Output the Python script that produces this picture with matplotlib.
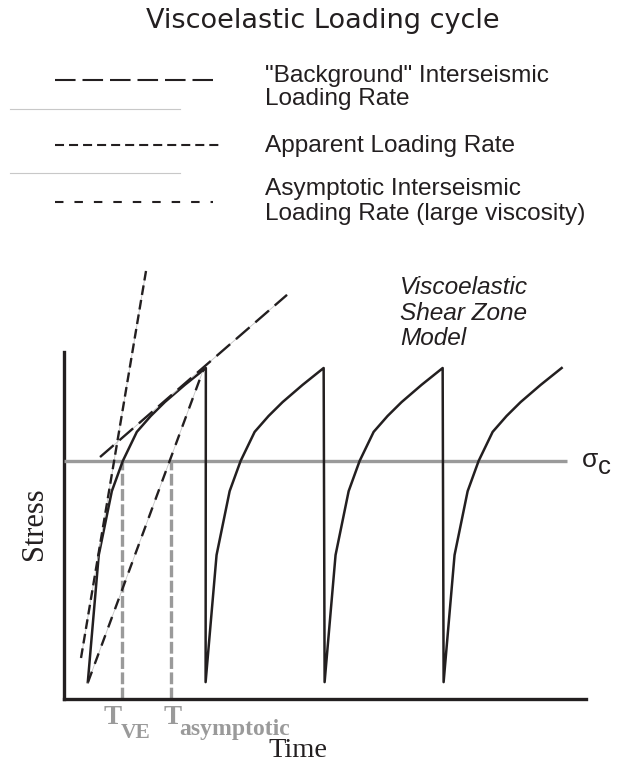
"""Viscoelastic loading cycle sketch: stress vs time with loading-rate guides."""

import matplotlib

matplotlib.use("Agg")
import matplotlib.pyplot as plt
from matplotlib.lines import Line2D

plt.rcParams["lines.scale_dashes"] = False

W, H = 617, 765
INK = "#231f20"
GRAY = "#9a9a9a"

# one loading cycle: time since rupture (in cycle periods) and stress (peak = 1)
cycle_time = [0.0, 0.092, 0.202, 0.294, 0.412, 0.529, 0.647, 0.815, 0.992]
cycle_stress = [0.051, 0.435, 0.628, 0.719, 0.807, 0.855, 0.897, 0.949, 1.0]
rupture_times = [0.20, 1.19, 2.19, 3.19]

sigma_c = 0.72
sigma_c_end = 4.23
t_ve = 0.487
t_asymptotic = 0.899

# loading-rate guide lines (time, stress end points)
background_t = [0.303, 1.874]
background_s = [0.731, 1.221]
apparent_t = [0.143, 0.689]
apparent_s = [0.124, 1.293]
asymptotic_t = [0.202, 1.176]
asymptotic_s = [0.051, 1.0]

stress_axis_top = 1.048
time_axis_end = 4.39

legend_keys = ["background", "apparent", "asymptotic"]
legend_lines = [
    ['"Background" Interseismic', "Loading Rate"],
    ["Apparent Loading Rate"],
    ["Asymptotic Interseismic", "Loading Rate (large viscosity)"],
]

plot_dashes = {
    "background": (13.0, 5.5),
    "apparent": (7.0, 3.6),
    "asymptotic": (8.0, 6.0),
}
key_dashes = {
    "background": (14.8, 5.0),
    "apparent": (6.5, 3.6),
    "asymptotic": (6.1, 7.9),
}


def fx(x):
    return x / W


def fy(y):
    return 1 - y / H


fig = plt.figure(figsize=(W / 100, H / 100), dpi=100)

# title
fig.text(fx(323), fy(28), "Viscoelastic Loading cycle", ha="center", va="baseline",
         fontsize=19.5, family="DejaVu Sans", color=INK)

# legend keys, separators and labels
key_y = [80, 145, 202]
key_end = [213, 220, 213]
label_baselines = [[82, 105], [152], [195, 220]]
for key, y, x_end, lines, bases in zip(legend_keys, key_y, key_end, legend_lines, label_baselines):
    fig.add_artist(Line2D([fx(55), fx(x_end)], [fy(y), fy(y)], transform=fig.transFigure,
                          color=INK, lw=1.5, dashes=key_dashes[key], dash_capstyle="butt"))
    for text, base in zip(lines, bases):
        fig.text(fx(265), fy(base), text, ha="left", va="baseline", fontsize=17.6,
                 family="Liberation Sans", color=INK)
for y in [109, 173]:
    fig.add_artist(Line2D([fx(10), fx(180)], [fy(y), fy(y)], transform=fig.transFigure,
                          color="#c8c8c8", lw=0.8))

# main plot area
ax = fig.add_axes([fx(64), fy(699), fx(617) - fx(64), fy(250) - fy(699)])
ax.set_xlim(0, 553 / 119)
ax.set_ylim(0, 449 / 331)
ax.patch.set_visible(False)
for side in ["top", "right"]:
    ax.spines[side].set_visible(False)
for side in ["left", "bottom"]:
    ax.spines[side].set_linewidth(2.4)
    ax.spines[side].set_color(INK)
ax.spines["left"].set_bounds(0, stress_axis_top)
ax.spines["bottom"].set_bounds(0, time_axis_end)
ax.set_xticks([])
ax.set_yticks([])

# stress history (sawtooth of viscoelastic cycles)
times, stresses = [], []
for start in rupture_times:
    times += [start + t for t in cycle_time]
    stresses += list(cycle_stress)
ax.plot(times, stresses, color=INK, lw=1.8, zorder=4, clip_on=False)

# critical stress and characteristic times
ax.plot([0, sigma_c_end], [sigma_c, sigma_c], color=GRAY, lw=2.4, zorder=3,
        solid_capstyle="butt")
for t in [t_ve, t_asymptotic]:
    ax.plot([t, t], [0, sigma_c], color=GRAY, lw=2.4, dashes=(8.5, 2.5), zorder=2)

# loading-rate guides
for key, ts, ss in [("background", background_t, background_s),
                    ("apparent", apparent_t, apparent_s),
                    ("asymptotic", asymptotic_t, asymptotic_s)]:
    ax.plot(ts, ss, color="#c4c4c4", lw=0.6, zorder=5, clip_on=False)
    ax.plot(ts, ss, color=INK, lw=1.7, dashes=plot_dashes[key], zorder=6,
            dash_capstyle="butt", clip_on=False)

# annotations
fig.text(fx(400), fy(294), "Viscoelastic", style="italic", fontsize=17.6,
         family="Liberation Sans", color=INK, va="baseline")
fig.text(fx(400), fy(320), "Shear Zone", style="italic", fontsize=17.6,
         family="Liberation Sans", color=INK, va="baseline")
fig.text(fx(400), fy(345), "Model", style="italic", fontsize=17.6,
         family="Liberation Sans", color=INK, va="baseline")

fig.text(fx(582), fy(467), "\u03c3", fontsize=19, family="Liberation Sans", color=INK,
         va="baseline")
fig.text(fx(598), fy(474), "c", fontsize=18.5, family="Liberation Sans", color=INK,
         va="baseline")

fig.text(fx(34), fy(524), "Stress", rotation=90, ha="center", va="center", fontsize=22,
         family="Liberation Serif", color=INK)
fig.text(fx(268), fy(757), "Time", ha="left", va="baseline", fontsize=20.5,
         family="Liberation Serif", color=INK)

bold_gray = dict(family="Liberation Serif", weight="bold", color=GRAY, va="baseline")
fig.text(fx(104), fy(724), "T", fontsize=19.5, **bold_gray)
fig.text(fx(121), fy(738), "VE", fontsize=15.5, **bold_gray)
fig.text(fx(164), fy(724), "T", fontsize=19.5, **bold_gray)
fig.text(fx(179), fy(735), "asymptotic", fontsize=17, **bold_gray)

fig.savefig("out.png", dpi=100)
